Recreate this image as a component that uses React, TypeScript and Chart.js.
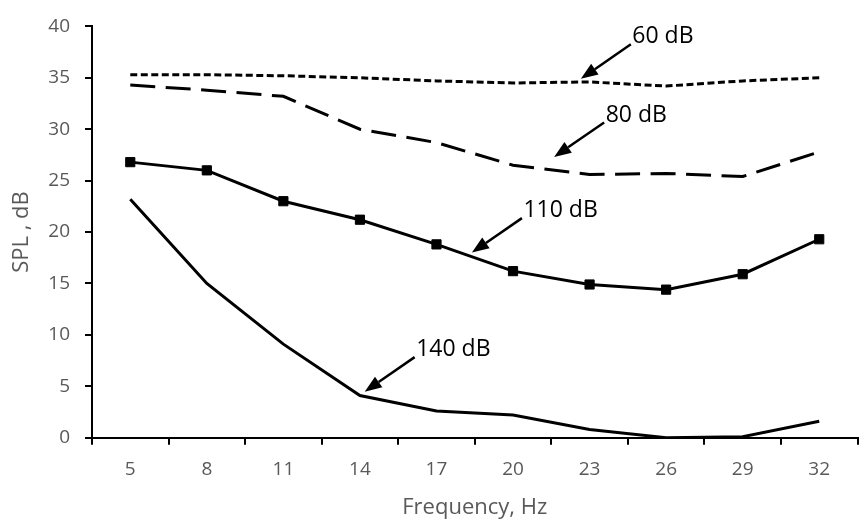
import React, { useEffect, useRef } from "react";
import { Chart, registerables } from "chart.js";

Chart.register(...registerables);

const frequencies = ["5", "8", "11", "14", "17", "20", "23", "26", "29", "32"];
const spl60 = [35.3, 35.3, 35.2, 35.0, 34.7, 34.5, 34.6, 34.2, 34.7, 35.0];
const spl80 = [34.3, 33.8, 33.2, 30.0, 28.7, 26.5, 25.6, 25.7, 25.4, 27.8];
const spl110 = [26.8, 26.0, 23.0, 21.2, 18.8, 16.2, 14.9, 14.4, 15.9, 19.3];
const spl140 = [23.2, 15.0, 9.1, 4.1, 2.6, 2.2, 0.8, 0.0, 0.1, 1.6];

// annotation labels with their arrow tips (in data space: category index, dB)
const noteTexts = ["60 dB", "80 dB", "110 dB", "140 dB"];
const noteTipIndex = [5.886, 5.537, 4.463, 3.062];
const noteTipValue = [34.9, 27.3, 18.0, 4.48];

const FONT = '"Open Sans", "DejaVu Sans", sans-serif';
const GREY = "#595959";

const arrowNotes = {
  id: "arrowNotes",
  afterDatasetsDraw(chart: any) {
    const { ctx, scales } = chart;
    const xs = scales.x;
    const ys = scales.y;
    ctx.save();
    ctx.fillStyle = "#000";
    ctx.strokeStyle = "#000";
    ctx.lineWidth = 2.5;
    for (let i = 0; i < noteTexts.length; i++) {
      const tx = xs.getPixelForValue(noteTipIndex[i]);
      const ty = ys.getPixelForValue(noteTipValue[i]);
      const sx = tx + 50;
      const sy = ty - 34.5;
      const ang = Math.atan2(ty - sy, tx - sx);
      const headLen = 17;
      const headHalf = 6.5;
      const bx = tx - headLen * Math.cos(ang);
      const by = ty - headLen * Math.sin(ang);
      ctx.beginPath();
      ctx.moveTo(sx, sy);
      ctx.lineTo(bx, by);
      ctx.stroke();
      ctx.beginPath();
      ctx.moveTo(tx, ty);
      ctx.lineTo(bx + headHalf * Math.sin(ang), by - headHalf * Math.cos(ang));
      ctx.lineTo(bx - headHalf * Math.sin(ang), by + headHalf * Math.cos(ang));
      ctx.closePath();
      ctx.fill();
      ctx.font = `23px ${FONT}`;
      ctx.textAlign = "left";
      ctx.textBaseline = "middle";
      ctx.fillText(noteTexts[i], sx + 1.5, sy - 7.5);
    }
    ctx.restore();
  },
};

export default function App() {
  const ref = useRef<HTMLCanvasElement | null>(null);
  useEffect(() => {
    if (!ref.current) return;
    const chart = new Chart(ref.current, {
      type: "line",
      data: {
        labels: frequencies,
        datasets: [
          {
            label: "60 dB",
            data: spl60,
            borderColor: "#000",
            borderWidth: 3,
            borderDash: [7, 3.5],
            pointRadius: 0,
            tension: 0,
            fill: false,
          },
          {
            label: "80 dB",
            data: spl80,
            borderColor: "#000",
            borderWidth: 3,
            borderDash: [25, 10.5],
            pointRadius: 0,
            tension: 0,
            fill: false,
          },
          {
            label: "110 dB",
            data: spl110,
            borderColor: "#000",
            backgroundColor: "#000",
            borderWidth: 3,
            pointStyle: "rect",
            pointRadius: 6.5,
            pointBorderWidth: 1,
            pointBackgroundColor: "#000",
            pointBorderColor: "#000",
            tension: 0,
            fill: false,
          },
          {
            label: "140 dB",
            data: spl140,
            borderColor: "#000",
            borderWidth: 3,
            pointRadius: 0,
            tension: 0,
            fill: false,
          },
        ],
      },
      options: {
        responsive: false,
        animation: false,
        devicePixelRatio: 1,
        layout: { padding: { top: 24, right: 0, bottom: 0, left: 0 } },
        plugins: {
          legend: { display: false },
          tooltip: { enabled: false },
        },
        scales: {
          x: {
            type: "category",
            offset: true,
            grid: {
              offset: true,
              drawOnChartArea: false,
              drawTicks: true,
              tickLength: 7,
              color: "#000",
              lineWidth: 2,
            },
            border: { display: true, color: "#000", width: 2 },
            ticks: {
              color: GREY,
              font: { family: FONT, size: 19 },
              padding: 13,
              maxRotation: 0,
              autoSkip: false,
            },
            title: {
              display: true,
              text: "Frequency, Hz",
              color: GREY,
              font: { family: FONT, size: 22, lineHeight: 1 },
              padding: { top: 0, bottom: 1 },
            },
            afterFit(s: any) {
              s.height = 82.3;
            },
          },
          y: {
            min: 0,
            max: 40,
            grid: {
              drawOnChartArea: false,
              drawTicks: true,
              tickLength: 7,
              color: "#000",
              lineWidth: 2,
            },
            border: { display: true, color: "#000", width: 2 },
            ticks: {
              stepSize: 5,
              color: GREY,
              font: { family: FONT, size: 19 },
              padding: 15,
            },
            title: {
              display: true,
              text: "SPL , dB",
              color: GREY,
              font: { family: FONT, size: 22, lineHeight: 1 },
              padding: { top: 11, bottom: 0 },
            },
            afterFit(s: any) {
              s.width = 92;
            },
          },
        },
      },
      plugins: [arrowNotes],
    } as any);
    return () => chart.destroy();
  }, []);
  return (
    <div
      style={{
        position: "fixed",
        left: 0,
        top: 0,
        width: 860,
        height: 520,
        overflow: "hidden",
        background: "#fff",
      }}
    >
      <canvas ref={ref} width={865} height={520} style={{ width: 865, height: 520, display: "block" }} />
    </div>
  );
}
